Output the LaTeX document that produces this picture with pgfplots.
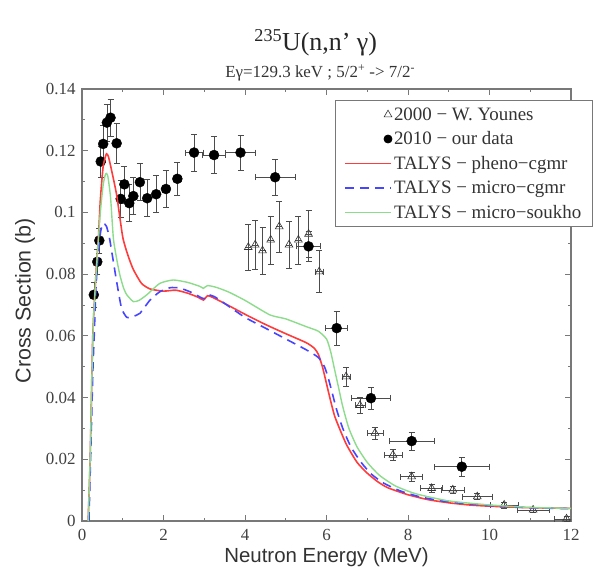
\documentclass[border=0pt]{standalone}
\usepackage{fontspec}
\setmainfont{Liberation Serif}
\setsansfont{Liberation Sans}
\usepackage{pgfplots}
\usepackage{pgfplotstable}
\pgfplotsset{compat=1.18}

\definecolor{talysred}{RGB}{255,60,60}
\definecolor{talysblue}{RGB}{70,70,255}
\definecolor{talysgreen}{RGB}{140,220,140}
\definecolor{cframe}{RGB}{120,120,120}

\pgfplotstableread{
x y ex ey
0.29 0.0733 0 0.004
0.375 0.0840 0 0.004
0.425 0.0909 0 0.004
0.46 0.1165 0 0.005
0.52 0.1222 0 0.006
0.61 0.1291 0 0.006
0.70 0.1307 0 0.006
0.85 0.1224 0 0.0065
0.95 0.1044 0 0.006
1.04 0.1091 0 0.006
1.16 0.1030 0 0.006
1.26 0.1053 0 0.006
1.42 0.1098 0 0.006
1.60 0.1046 0 0.006
1.82 0.1059 0 0.006
2.06 0.1076 0 0.006
2.34 0.1109 0.1 0.0055
2.75 0.1194 0.22 0.006
3.24 0.1186 0.28 0.006
3.89 0.1194 0.37 0.0057
4.74 0.1114 0.49 0.0057
5.56 0.0890 0.3 0.005
6.25 0.0625 0.27 0.0056
7.09 0.0398 0.48 0.0035
8.09 0.0259 0.55 0.003
9.32 0.0176 0.68 0.003
}\ourdata

\pgfplotstableread{
x y ex ey
4.08 0.0887 0 0.0075
4.25 0.0895 0 0.0078
4.43 0.0876 0 0.0076
4.63 0.0911 0 0.0078
4.84 0.0954 0 0.0083
5.08 0.0895 0 0.0076
5.31 0.0911 0 0.0078
5.56 0.0930 0 0.0077
5.82 0.0808 0.1 0.0068
6.48 0.0468 0.1 0.003
6.82 0.0375 0.12 0.0025
7.19 0.0285 0.2 0.002
7.63 0.0214 0.22 0.0018
8.09 0.0144 0.27 0.0015
8.58 0.0106 0.27 0.0012
9.10 0.0101 0.28 0.0012
9.70 0.0079 0.36 0.001
10.36 0.0052 0.35 0.001
11.07 0.0036 0.4 0.0008
11.89 0.0007 0.3 0.0008
}\younes

\begin{document}
\begin{tikzpicture}
\begin{axis}[
  scale only axis, width=489bp, height=432bp,
  clip mode=individual,
  xmin=0, xmax=12, ymin=0, ymax=0.14,
  xtick={0,2,4,6,8,10,12},
  ytick={0,0.02,0.04,0.06,0.08,0.1,0.12,0.14},
  minor x tick num=1, minor y tick num=1,
  tick align=inside, major tick length=6bp, minor tick length=3bp,
  axis line style={draw=cframe, line width=1.2bp},
  every tick/.style={cframe, line width=0.8bp},
  scaled y ticks=false,
  /pgf/number format/assume math mode=true,
  yticklabel style={/pgf/number format/fixed, /pgf/number format/precision=2, xshift=-3bp},
  xticklabel style={yshift=-5bp},
  tick label style={font=\fontsize{17}{19}\selectfont, text=black!75},
  xlabel={Neutron Energy (MeV)},
  ylabel={Cross Section (b)},
  every axis x label/.style={at={(axis description cs:0.5,-0.0845)}, anchor=center, font=\sffamily\fontsize{20.5}{22}\selectfont, text=black!80},
  every axis y label/.style={at={(axis description cs:-0.1166,0.51)}, anchor=center, rotate=90, font=\sffamily\fontsize{21.5}{23}\selectfont, text=black!80},
  legend style={at={(rel axis cs:0.517,0.974)}, anchor=north west, draw=cframe, fill=white, line width=0.8bp,
    font=\fontsize{19}{21}\selectfont, text=black!80, inner xsep=9bp, inner ysep=5bp, row sep=6bp},
  legend cell align=left,
]
\addplot[forget plot, only marks, mark=triangle, mark size=4.5bp, mark options={draw=black!80, fill=white, line width=0.6bp},
  error bars/.cd, x dir=both, x explicit, y dir=both, y explicit,
  error bar style={line width=0.6bp, black!70},
  error mark options={rotate=90, mark size=3bp, line width=0.6bp, black!70}]
  table[x=x, y=y, x error=ex, y error=ey] {\younes};
\addplot[forget plot, only marks, mark=*, mark size=5bp, mark options={draw=black, fill=black},
  error bars/.cd, x dir=both, x explicit, y dir=both, y explicit,
  error bar style={line width=0.6bp, black!70},
  error mark options={rotate=90, mark size=3bp, line width=0.6bp, black!70}]
  table[x=x, y=y, x error=ex, y error=ey] {\ourdata};
\addplot[forget plot, color=talysred, line width=1.6bp, smooth, tension=0.35] coordinates {
(0.15,0) (0.2,0.02) (0.26,0.058) (0.3,0.07) (0.36,0.084) (0.4,0.091) (0.45,0.104) (0.52,0.115) (0.6,0.119) (0.65,0.118)
(0.72,0.114) (0.85,0.1057) (1.0,0.092) (1.13,0.086) (1.26,0.0815) (1.46,0.077) (1.67,0.0752) (2.0,0.0745) (2.3,0.0748)
(2.6,0.0738) (2.85,0.0725) (2.98,0.0716) (3.08,0.073) (3.2,0.0725) (3.5,0.0705) (4.0,0.067) (4.5,0.0637) (5.0,0.0607)
(5.5,0.0578) (5.7,0.056) (5.8,0.054) (5.9,0.050) (6.0,0.0445) (6.1,0.039) (6.2,0.034) (6.35,0.029) (6.5,0.0245)
(6.75,0.019) (7.0,0.0155) (7.25,0.0128) (7.5,0.0108) (8.0,0.0085) (8.5,0.0069) (9,0.0059) (9.5,0.0052) (10,0.0048)
(11,0.0043) (12,0.0041)};
\addplot[forget plot, color=talysblue, line width=1.6bp, dash pattern=on 9bp off 6bp, smooth, tension=0.35] coordinates {
(0.17,0) (0.22,0.025) (0.27,0.05) (0.3,0.06) (0.34,0.075) (0.4,0.087) (0.46,0.094) (0.52,0.0965) (0.6,0.0955)
(0.67,0.092) (0.73,0.0873) (0.85,0.0776) (0.97,0.069) (1.1,0.066) (1.25,0.0663) (1.42,0.0673) (1.67,0.0716) (1.91,0.0743)
(2.16,0.0756) (2.4,0.0755) (2.7,0.074) (2.95,0.0722) (3.03,0.0722) (3.1,0.0733) (3.25,0.0727) (3.5,0.0705) (4.0,0.066)
(4.5,0.0625) (5.0,0.059) (5.5,0.0555) (5.8,0.053) (5.95,0.050) (6.05,0.046) (6.15,0.041) (6.25,0.036) (6.4,0.030)
(6.6,0.024) (6.85,0.019) (7.1,0.0152) (7.4,0.0123) (7.8,0.0098) (8.3,0.0078) (9,0.0062) (10,0.005) (11,0.0043) (12,0.004)};
\addplot[forget plot, color=talysgreen, line width=1.4bp, smooth, tension=0.35] coordinates {
(0.15,0) (0.2,0.02) (0.26,0.057) (0.3,0.07) (0.37,0.085) (0.45,0.1) (0.52,0.109) (0.58,0.1125) (0.63,0.112)
(0.7,0.105) (0.77,0.0916) (0.85,0.085) (0.93,0.0797) (1.02,0.0755) (1.1,0.0733) (1.26,0.0711) (1.4,0.0715) (1.59,0.0733)
(1.91,0.077) (2.24,0.0781) (2.6,0.0773) (2.9,0.076) (2.98,0.0754) (3.08,0.0763) (3.3,0.0757) (3.6,0.0742) (4.0,0.0715)
(4.61,0.0668) (5.0,0.0655) (5.5,0.063) (5.8,0.0615) (6.0,0.059) (6.1,0.055) (6.2,0.049) (6.3,0.043) (6.4,0.037)
(6.55,0.030) (6.75,0.024) (7.0,0.019) (7.3,0.0148) (7.7,0.0113) (8.2,0.0088) (9,0.0065) (10,0.0052) (11,0.0044) (12,0.0041)};

\addlegendimage{legend image code/.code={\draw[only marks, mark=triangle, mark size=4.5bp, mark options={draw=black!80, fill=white, line width=0.6bp}] plot coordinates {(43bp,0bp)};}}
\addlegendentry{2000 − W. Younes}
\addlegendimage{legend image code/.code={\draw[only marks, mark=*, mark size=4bp, mark options={draw=black, fill=black}] plot coordinates {(43bp,0bp)};}}
\addlegendentry{2010 − our data}
\addlegendimage{legend image code/.code={\begin{pgfscope}\pgfsetstrokecolor{talysred}\pgfsetdash{}{0pt}\pgfsetlinewidth{1.6bp}\pgfpathmoveto{\pgfpoint{0bp}{0bp}}\pgfpathlineto{\pgfpoint{46bp}{0bp}}\pgfusepath{stroke}\end{pgfscope}}}
\addlegendentry{TALYS − pheno−cgmr}
\addlegendimage{legend image code/.code={\draw[draw=talysblue, line width=1.6bp, dash pattern=on 9bp off 6bp] (0bp,0bp) -- (46bp,0bp);}}
\addlegendentry{TALYS − micro−cgmr}
\addlegendimage{legend image code/.code={\draw[draw=talysgreen, line width=1.4bp] (0bp,0bp) -- (46bp,0bp);}}
\addlegendentry{TALYS − micro−soukho}
\node[font=\fontsize{26}{28}\selectfont, text=black!85] at (rel axis cs:0.478,1) [yshift=46bp] {\textsuperscript{235}U(n,n’ γ)};
\node[font=\fontsize{17}{19}\selectfont, text=black!80] at (rel axis cs:0.487,1) [yshift=16bp] {Eγ=129.3 keV ; 5/2\textsuperscript{+} -> 7/2\textsuperscript{-}};
\end{axis}
\pgfresetboundingbox
\path (-82bp,-54bp) rectangle (514bp,521bp);
\end{tikzpicture}
\end{document}
